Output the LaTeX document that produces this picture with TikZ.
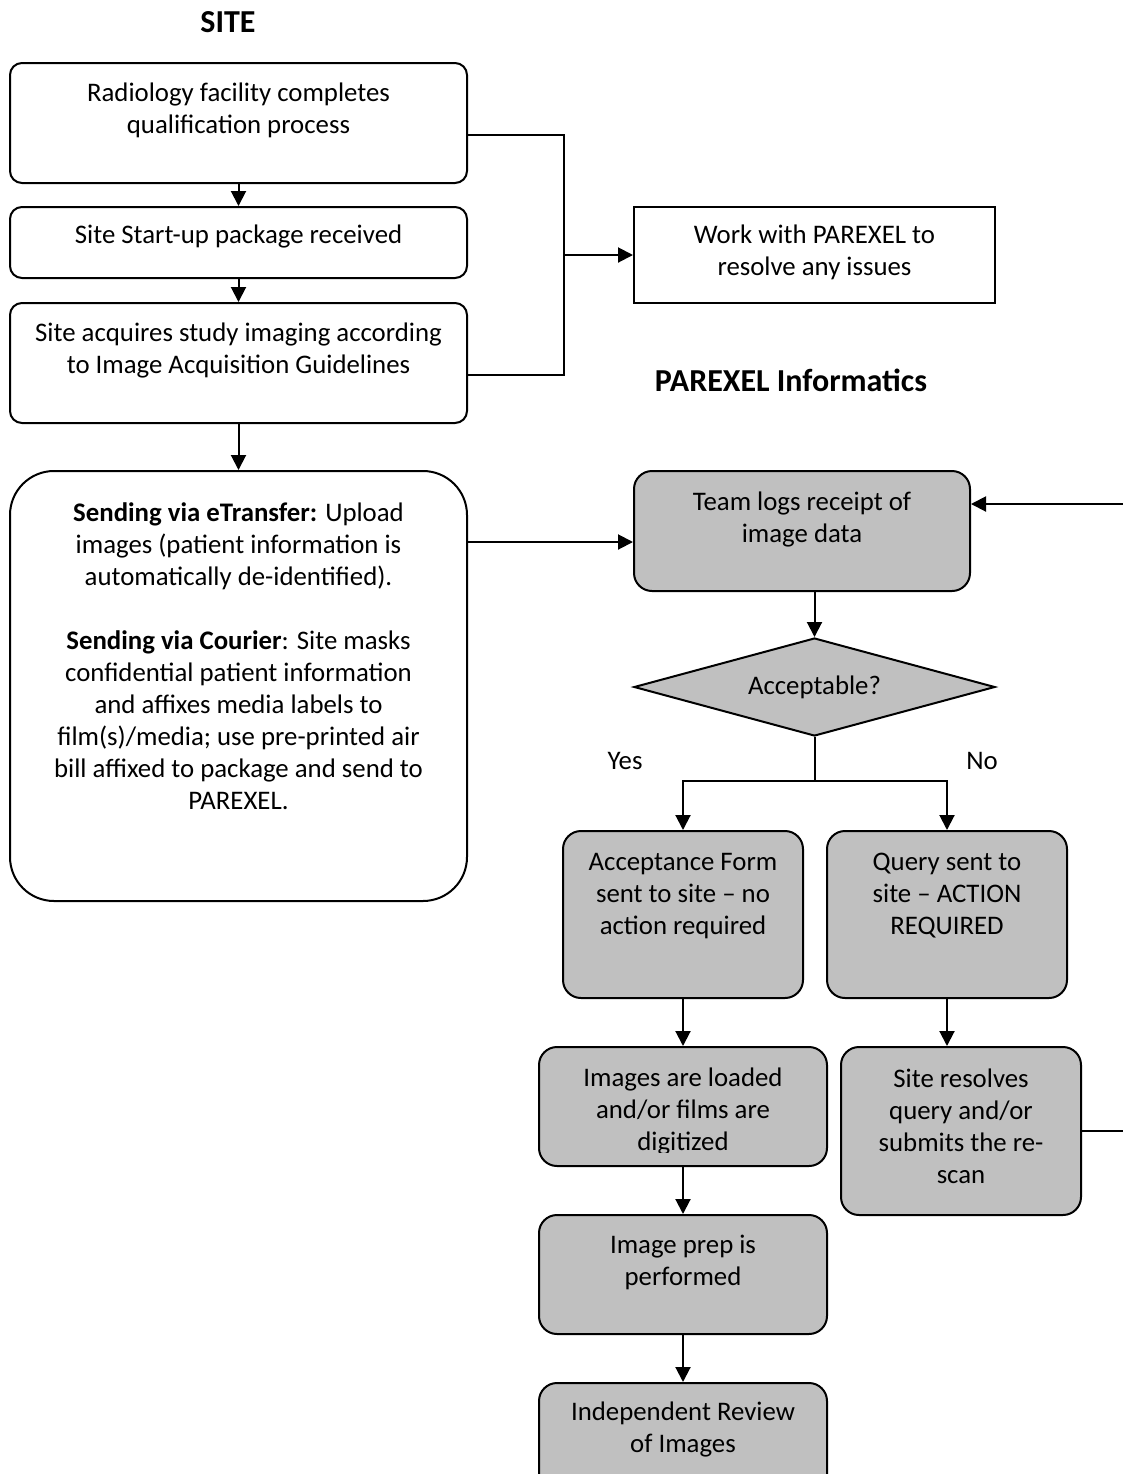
\documentclass[tikz,border=0pt]{standalone}
\usepackage{fontspec}
\setmainfont{Carlito}
\usetikzlibrary{shapes.geometric,arrows.meta}
\definecolor{boxgrey}{HTML}{C0C0C0}

\begin{document}
\begin{tikzpicture}[x=0.5pt,y=-0.5pt,
    font=\fontsize{13.4}{16}\selectfont,
    every node/.style={align=center,inner sep=0pt},
    box/.style={draw,line width=1pt,rounded corners=6pt,anchor=north},
    greybox/.style={box,fill=boxgrey,rounded corners=9pt},
    title/.style={font=\fontsize{16}{19}\selectfont\bfseries},
    arr/.style={line width=1pt,-{Triangle[length=7.5pt,width=7.5pt]}},
    ln/.style={line width=1pt}]
    \useasboundingbox (0,0) rectangle (1123,1474);

    % site side
    \node[title] (sitetitle) at (228,22) {SITE};
    \node[box,minimum width=228.5pt,text height=35pt,text depth=25pt] (site1) at (238.5,62)
        {Radiology facility completes\\qualification process};
    \node[box,minimum width=228.5pt,text height=18pt,text depth=17.5pt] (site2) at (238.5,206)
        {Site Start-up package received};
    \node[box,minimum width=228.5pt,text height=35pt,text depth=25pt] (site3) at (238.5,302)
        {Site acquires study imaging according\\to Image Acquisition Guidelines};
    \node[box,rounded corners=22pt,minimum width=228.5pt,text height=169pt,text depth=46pt] (send) at (238.5,470)
        {\textbf{Sending via eTransfer:} Upload\\images (patient information is\\automatically de-identified).\\[16pt]
         \textbf{Sending via Courier}: Site masks\\confidential patient information\\and affixes media labels to\\
         film(s)/media; use pre-printed air\\bill affixed to package and send to\\PAREXEL.};
    \node[box,sharp corners,minimum width=180.5pt,text height=34pt,text depth=14pt] (work) at (814.5,206)
        {Work with PAREXEL to\\resolve any issues};

    % PAREXEL side
    \node[title] (partitle) at (791,380) {PAREXEL Informatics};
    \node[greybox,minimum width=168pt,text height=35.5pt,text depth=24.5pt] (team) at (802,470)
        {Team logs receipt of\\image data};
    \node[diamond,shape aspect=3.7,draw,line width=1pt,fill=boxgrey,minimum width=180.5pt,minimum height=49pt] (dia) at (814.5,687)
        {Acceptable?};
    \node (yes) at (625,761) {Yes};
    \node (no) at (982,761) {No};
    \node[greybox,minimum width=120pt,text height=51.5pt,text depth=32pt] (acc) at (683,830)
        {Acceptance Form\\sent to site -- no\\action required};
    \node[greybox,minimum width=120pt,text height=51.5pt,text depth=32pt] (query) at (947,830)
        {Query sent to\\site -- ACTION\\REQUIRED};
    \node[greybox,minimum width=144pt,text height=51.5pt,text depth=8pt] (load) at (683,1046)
        {Images are loaded\\and/or films are\\digitized};
    % text frame cuts the last line
    \fill[boxgrey] ([xshift=-40pt,yshift=0.9pt]load.south) rectangle ([xshift=40pt,yshift=7pt]load.south);
    \node[greybox,minimum width=120pt,text height=68pt,text depth=16pt] (resolve) at (961,1046)
        {Site resolves\\query and/or\\submits the re-\\scan};
    \node[greybox,minimum width=144pt,text height=35pt,text depth=24.5pt] (prep) at (683,1214)
        {Image prep is\\performed};
    \node[greybox,minimum width=144pt,text height=34.5pt,text depth=24.5pt] (review) at (683,1382)
        {Independent Review\\of Images};

    % connectors
    \draw[arr] (site1) -- (site2);
    \draw[arr] (site2) -- (site3);
    \draw[arr] (site3) -- (send);
    \draw[ln] ([yshift=-6pt]site1.east) -- ++(96,0) coordinate (brk) |- ([yshift=-6pt]site3.east);
    \draw[arr] (brk |- work.west) -- (work.west);
    \draw[arr] ([yshift=-5.5pt]team.west -| send.east) -- ([yshift=-5.5pt]team.west);
    \draw[arr] (team.south -| dia.north) -- (dia.north);
    \draw[arr] (dia.south) -- ++(0,44) -| (acc.north);
    \draw[arr] (dia.south) -- ++(0,44) -| (query.north);
    \draw[arr] (acc) -- (load);
    \draw[arr] (query.south) -- (query.south |- resolve.north);
    \draw[arr] (load) -- (prep);
    \draw[arr] (prep) -- (review);
    % loop back goes off the page
    \draw[arr] (resolve.east) -- ++(70,0) |- ([yshift=13.5pt]team.east);
\end{tikzpicture}
\end{document}
